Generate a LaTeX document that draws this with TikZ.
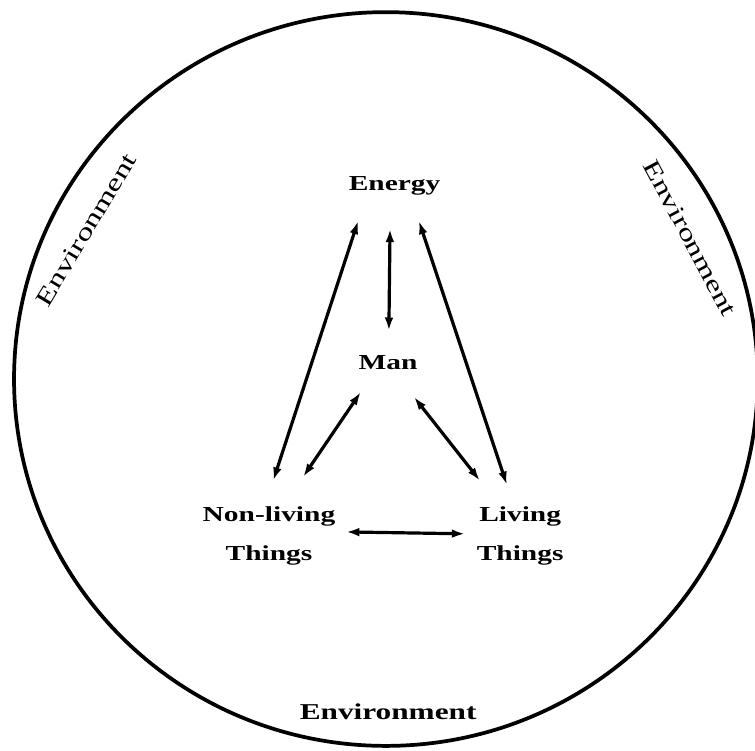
\documentclass[tikz,border=0pt]{standalone}
\usepackage{fontspec}
\newfontfamily\labelfont[FakeStretch=1.38]{Liberation Serif}
\usetikzlibrary{calc}
\usetikzlibrary{arrows.meta}

\begin{document}
\begin{tikzpicture}[thing/.style={font=\labelfont\bfseries\fontsize{16}{29}\selectfont, align=center, inner sep=0pt}, envtext/.style={font=\labelfont\fontsize{18}{20}\selectfont, inner sep=0pt}, link/.style={line width=2.4pt, {Latex[length=10pt,width=6.5pt]}-{Latex[length=10pt,width=6.5pt]}}]
			\clip (0,0) rectangle (19.90,19.79);

			% the surrounding environment
			\draw[line width=2.8pt] (10.17,9.80) ellipse (9.80 and 9.67);

			\node[thing] (energy) at (10.40,14.89) {Energy};
			\node[thing] (man) at (10.23,10.23) {Man};
			\node[thing] (nonliving) at (7.09,5.67) {Non-living\\Things};
			\node[thing] (living) at (13.71,5.67) {Living\\Things};

			\node[envtext, rotate=59] (envleft) at (2.27,13.73) {Environment};
			\node[envtext, rotate=-62] (envright) at (18.19,13.52) {Environment};
			\node[thing, font=\labelfont\bfseries\fontsize{17}{20}\selectfont] (envbottom) at (10.23,1.04) {Environment};

			%energy to the three others
			\draw[link] ($(energy)+(-0.96,-0.92)$) -- ($(nonliving)+(0.11,1.45)$);
			\draw[link] ($(energy)+(-0.12,-1.13)$) -- ($(man)+(0.02,0.84)$);
			\draw[link] ($(energy)+(0.64,-0.92)$) -- ($(living)+(-0.35,1.34)$);

			\draw[link] ($(man)+(-0.72,-0.77)$) -- ($(nonliving)+(0.90,1.55)$);
			\draw[link] ($(man)+(0.68,-0.90)$) -- ($(living)+(-1.06,1.45)$);

			\draw[link] ($(nonliving)+(2.03,0.10)$) -- ($(living)+(-1.45,0.05)$);

		\end{tikzpicture}
\end{document}
